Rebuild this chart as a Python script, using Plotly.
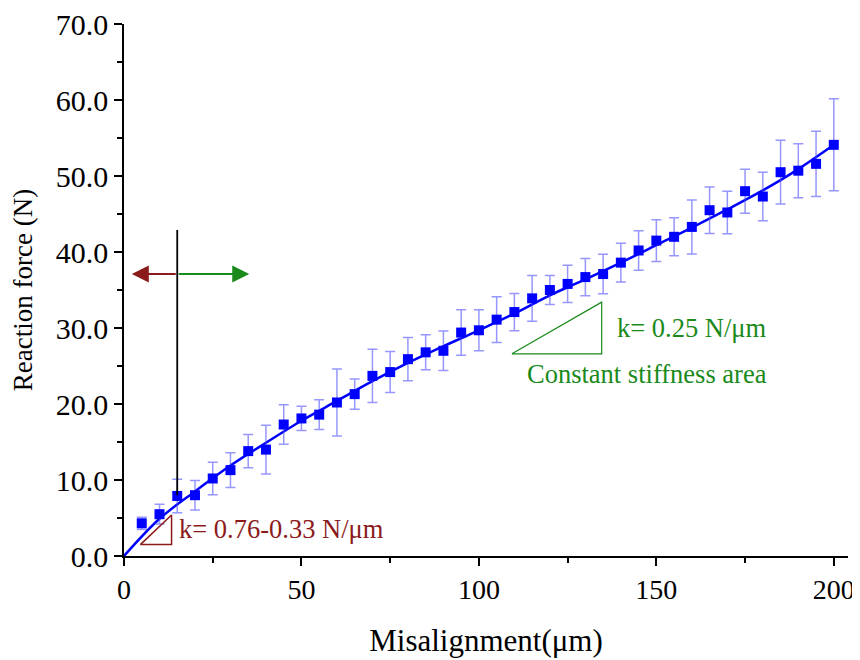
import plotly.graph_objects as go

# Measured data
misalignment = [5, 10, 15, 20, 25, 30, 35, 40, 45, 50, 55, 60, 65, 70, 75, 80, 85, 90, 95, 100,
                105, 110, 115, 120, 125, 130, 135, 140, 145, 150, 155, 160, 165, 170, 175, 180, 185, 190, 195, 200]
force = [4.3, 5.5, 7.9, 8.0, 10.2, 11.3, 13.8, 14.0, 17.3, 18.1, 18.6, 20.2, 21.3, 23.7, 24.2, 25.9, 26.8, 27.0, 29.4, 29.7,
         31.1, 32.1, 33.9, 35.0, 35.8, 36.7, 37.1, 38.6, 40.2, 41.5, 42.0, 43.3, 45.5, 45.2, 48.0, 47.3, 50.5, 50.7, 51.6, 54.1]
force_err = [0.8, 1.3, 2.2, 1.95, 2.15, 2.3, 2.2, 3.2, 2.6, 1.6, 1.95, 4.4, 2.0, 3.5, 2.7, 2.85, 2.3, 2.6, 3.0, 2.7,
             3.0, 2.45, 3.0, 1.9, 2.45, 2.45, 2.6, 2.55, 2.6, 2.75, 2.5, 3.55, 3.05, 2.8, 2.9, 3.2, 4.2, 3.55, 4.3, 6.05]

# Fitted curve
fit_x = [0, 10, 20, 30, 40, 50, 60, 70, 80, 90, 100, 110, 120, 130, 140, 150, 160, 170, 180, 190, 200]
fit_y = [0.0, 4.9, 8.5, 11.9, 14.9, 17.8, 20.4, 23.0, 25.4, 27.6, 29.7, 31.9, 34.3, 36.4, 38.6, 40.9, 43.2, 45.6, 48.1, 50.9, 54.1]

# Annotation geometry (data units)
divider_x = [15, 15]
divider_y = [8.0, 42.9]
red_tri_x = [4.6, 13.4, 13.4, 4.6]
red_tri_y = [1.5, 5.4, 1.5, 1.5]
green_tri_x = [109.3, 134.6, 134.6, 109.3]
green_tri_y = [26.6, 33.4, 26.6, 26.6]

x_ticks = [0, 50, 100, 150, 200]
x_ticktext = ["0", "50", "100", "150", "200"]
y_ticks = [0, 10, 20, 30, 40, 50, 60, 70]
y_ticktext = ["0.0", "10.0", "20.0", "30.0", "40.0", "50.0", "60.0", "70.0"]

DARKRED = "#8b1a1a"
GREEN = "#1a8a1a"
FONT = "Liberation Serif"

fig = go.Figure()

fig.add_trace(go.Scatter(x=fit_x, y=fit_y, mode="lines", line=dict(color="#0000ff", width=2.5, shape="spline"),
                         showlegend=False, hoverinfo="skip"))
fig.add_trace(go.Scatter(x=misalignment, y=force, mode="markers",
                         marker=dict(symbol="square", size=10, color="#0000ff"),
                         error_y=dict(type="data", array=force_err, color="rgba(80,80,255,0.6)", thickness=1.5, width=5),
                         showlegend=False))

fig.add_trace(go.Scatter(x=divider_x, y=divider_y, mode="lines", line=dict(color="black", width=1.8),
                         showlegend=False, hoverinfo="skip"))
fig.add_trace(go.Scatter(x=red_tri_x, y=red_tri_y, mode="lines", line=dict(color=DARKRED, width=1.5),
                         showlegend=False, hoverinfo="skip"))
fig.add_trace(go.Scatter(x=green_tri_x, y=green_tri_y, mode="lines", line=dict(color=GREEN, width=1.2),
                         showlegend=False, hoverinfo="skip"))

# arrows
fig.add_annotation(x=2.2, y=37.1, ax=15, ay=37.1, xref="x", yref="y", axref="x", ayref="y",
                   showarrow=True, arrowhead=2, arrowsize=1.7, arrowwidth=2, arrowcolor=DARKRED, text="")
fig.add_annotation(x=35.3, y=37.1, ax=15, ay=37.1, xref="x", yref="y", axref="x", ayref="y",
                   showarrow=True, arrowhead=2, arrowsize=1.7, arrowwidth=2, arrowcolor=GREEN, text="")

# texts
fig.add_annotation(x=14.9, y=3.6, xref="x", yref="y", text="k= 0.76-0.33 N/μm", showarrow=False,
                   xanchor="left", yanchor="middle", font=dict(family=FONT, size=26.5, color=DARKRED))
fig.add_annotation(x=138.3, y=30.0, xref="x", yref="y", text="k= 0.25 N/μm", showarrow=False,
                   xanchor="left", yanchor="middle", font=dict(family=FONT, size=26.5, color=GREEN))
fig.add_annotation(x=147.5, y=23.9, xref="x", yref="y", text="Constant stiffness area", showarrow=False,
                   xanchor="center", yanchor="middle", font=dict(family=FONT, size=26.5, color=GREEN))

fig.update_layout(
    width=852, height=652,
    margin=dict(l=116, r=12, t=16, b=104),
    paper_bgcolor="white", plot_bgcolor="white",
    font=dict(family=FONT, size=28, color="black"),
    showlegend=False,
)
fig.update_xaxes(range=[0, 204], tickvals=x_ticks, ticktext=x_ticktext, automargin=False,
                 showline=True, linecolor="black", linewidth=1.5, ticks="outside", ticklen=8, tickwidth=1.5,
                 tickcolor="black", showgrid=False, zeroline=False, ticklabelstandoff=0,
                 ticklabeloverflow="allow",
                 minor=dict(tickvals=[25, 75, 125, 175], ticks="outside", ticklen=5, tickwidth=1.5, tickcolor="black"),
                 title=dict(text="Misalignment(μm)", font=dict(family=FONT, size=31), standoff=25),
                 tickfont=dict(family=FONT, size=28))
fig.update_yaxes(range=[0, 70], tickvals=y_ticks, ticktext=y_ticktext, automargin=False,
                 showline=True, linecolor="black", linewidth=1.5, ticks="outside", ticklen=8, tickwidth=1.5,
                 tickcolor="black", showgrid=False, zeroline=False, ticklabelstandoff=0,
                 ticklabeloverflow="allow",
                 minor=dict(tickvals=[5, 15, 25, 35, 45, 55, 65], ticks="outside", ticklen=5, tickwidth=1.5, tickcolor="black"),
                 title=dict(text="Reaction force (N)", font=dict(family=FONT, size=27), standoff=17),
                 tickfont=dict(family=FONT, size=30))

fig.write_html("out.html")
